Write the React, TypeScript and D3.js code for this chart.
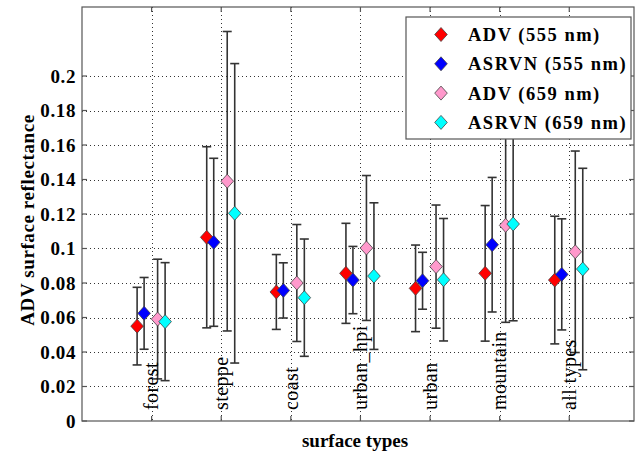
import React, { useEffect, useRef } from 'react';
import * as d3 from 'd3';

const categories = ['forest', 'steppe', 'coast', 'urban_hpi', 'urban', 'mountain', 'all types'];
const yTicks = [0, 0.02, 0.04, 0.06, 0.08, 0.1, 0.12, 0.14, 0.16, 0.18, 0.2];

const seriesNames = ['ADV (555 nm)', 'ASRVN (555 nm)', 'ADV (659 nm)', 'ASRVN (659 nm)'];
const seriesColors = ['#ff0000', '#0000ff', '#ff99cc', '#00ffff'];

// mean and standard deviation per surface type
const adv555Mean = [0.055, 0.1065, 0.0748, 0.0856, 0.0769, 0.0856, 0.0817];
const adv555Sd = [0.0225, 0.0525, 0.0217, 0.029, 0.0251, 0.0393, 0.037];
const asrvn555Mean = [0.0624, 0.1036, 0.0757, 0.0817, 0.0813, 0.1022, 0.085];
const asrvn555Sd = [0.0208, 0.0487, 0.016, 0.0195, 0.0165, 0.039, 0.0322];
const adv659Mean = [0.0591, 0.139, 0.08, 0.1003, 0.0895, 0.1134, 0.0981];
const adv659Sd = [0.0347, 0.0868, 0.0339, 0.042, 0.0357, 0.0562, 0.0584];
const asrvn659Mean = [0.0576, 0.1204, 0.0715, 0.084, 0.0819, 0.1142, 0.0881];
const asrvn659Sd = [0.0342, 0.0868, 0.034, 0.0425, 0.0355, 0.0561, 0.0584];

const means = [adv555Mean, asrvn555Mean, adv659Mean, asrvn659Mean];
const sds = [adv555Sd, asrvn555Sd, adv659Sd, asrvn659Sd];

const FONT = "'Liberation Serif', 'Times New Roman', serif";

const App = () => {
  const svgRef = useRef<SVGSVGElement>(null);
  const width = 635;
  const height = 455;

  useEffect(() => {
    const svg = d3.select(svgRef.current);
    svg.selectAll('*').remove();

    const left = 82, right = 634, top = 7, bottom = 421;
    const axisColor = '#555';

    const x = d3.scaleLinear().domain([0, 7.93]).range([left, right]);
    const y = d3.scaleLinear().domain([0, 0.24]).range([bottom, top]);
    // horizontal offset of each series inside a group, in pixels
    const offsets = [-14.5, -7.5, 6, 13.5];

    svg.append('rect').attr('width', width).attr('height', height).attr('fill', '#fff');

    // dotted grid
    const grid = svg.append('g').attr('stroke', '#333').attr('stroke-width', 1)
      .attr('stroke-dasharray', '1,3');
    grid.selectAll('.hg').data(yTicks.slice(1)).enter().append('line')
      .attr('x1', left).attr('x2', right)
      .attr('y1', d => Math.round(y(d)) + 0.5).attr('y2', d => Math.round(y(d)) + 0.5);
    grid.selectAll('.vg').data(categories).enter().append('line')
      .attr('y1', top).attr('y2', bottom)
      .attr('x1', (d, i) => Math.round(x(i + 1)) + 0.5).attr('x2', (d, i) => Math.round(x(i + 1)) + 0.5);

    // error bars + markers
    means.forEach((m, s) => {
      const g = svg.append('g');
      m.forEach((v, i) => {
        const lo = y(v - sds[s][i]);
        const hi = y(v + sds[s][i]);
        const px = x(i + 1) + offsets[s];
        g.append('line').attr('x1', px).attr('x2', px).attr('y1', lo).attr('y2', hi)
          .attr('stroke', '#333').attr('stroke-width', 1.6);
        [lo, hi].forEach(yy => {
          g.append('line').attr('x1', px - 4.5).attr('x2', px + 4.5).attr('y1', yy).attr('y2', yy)
            .attr('stroke', '#333').attr('stroke-width', 1.6);
        });
        const py = y(v);
        g.append('path')
          .attr('d', `M${px},${py - 7}L${px + 6.3},${py}L${px},${py + 7}L${px - 6.3},${py}Z`)
          .attr('fill', seriesColors[s]).attr('stroke', '#444').attr('stroke-width', 0.8);
      });
    });

    // category labels, rotated inside the plot
    svg.append('g').selectAll('text').data(categories).enter().append('text')
      .attr('transform', (d, i) => `translate(${x(i + 1)},${bottom - 11}) rotate(-90)`)
      .attr('dy', '0.34em')
      .style('font-family', FONT).style('font-size', '20px').style('letter-spacing', '0.4px')
      .attr('fill', '#000')
      .text(d => d);

    // axes box
    svg.append('rect').attr('x', left).attr('y', top).attr('width', right - left).attr('height', bottom - top)
      .attr('fill', 'none').attr('stroke', axisColor).attr('stroke-width', 1.2);

    const ticks = svg.append('g').attr('stroke', axisColor).attr('stroke-width', 1.2);
    categories.forEach((c, i) => {
      const px = x(i + 1);
      ticks.append('line').attr('x1', px).attr('x2', px).attr('y1', bottom).attr('y2', bottom - 5);
      ticks.append('line').attr('x1', px).attr('x2', px).attr('y1', top).attr('y2', top + 5);
    });
    yTicks.forEach(t => {
      ticks.append('line').attr('x1', left).attr('x2', left + 5).attr('y1', y(t)).attr('y2', y(t));
      ticks.append('line').attr('x1', right).attr('x2', right - 5).attr('y1', y(t)).attr('y2', y(t));
    });

    // y tick labels
    svg.append('g').selectAll('text').data(yTicks).enter().append('text')
      .attr('x', left - 6).attr('y', d => y(d)).attr('dy', '0.35em')
      .attr('text-anchor', 'end')
      .style('font-family', FONT).style('font-size', '19px').style('font-weight', 'bold')
      .style('letter-spacing', '0.6px')
      .text(d => d3.format('')(d));

    // axis titles
    svg.append('text')
      .attr('x', (left + right) / 2 - 3).attr('y', 447)
      .attr('text-anchor', 'middle')
      .style('font-family', FONT).style('font-size', '19px').style('font-weight', 'bold')
      .text('surface types');
    svg.append('text')
      .attr('transform', `translate(27,${(top + bottom) / 2 + 6}) rotate(-90)`)
      .attr('text-anchor', 'middle').attr('dy', '0.35em')
      .style('font-family', FONT).style('font-size', '19px').style('font-weight', 'bold')
      .style('letter-spacing', '0.6px')
      .text('ADV surface reflectance');

    // legend
    const lg = svg.append('g').attr('transform', 'translate(406,17)');
    lg.append('rect').attr('width', 225).attr('height', 122)
      .attr('fill', '#fff').attr('stroke', axisColor).attr('stroke-width', 1.2);
    seriesNames.forEach((name, s) => {
      const ly = 17.5 + s * 29.3;
      lg.append('path')
        .attr('d', `M35,${ly - 7}L41.3,${ly}L35,${ly + 7}L28.7,${ly}Z`)
        .attr('fill', seriesColors[s]).attr('stroke', '#444').attr('stroke-width', 0.8);
      lg.append('text')
        .attr('x', 62).attr('y', ly).attr('dy', '0.35em')
        .style('font-family', FONT).style('font-size', '18.5px').style('font-weight', 'bold')
        .style('letter-spacing', '1.5px')
        .text(name);
    });
  }, []);

  return (
    <svg
      ref={svgRef}
      width={width}
      height={height}
      style={{ position: 'absolute', left: 0, top: 0, background: 'white' }}
    />
  );
};

export default App;
